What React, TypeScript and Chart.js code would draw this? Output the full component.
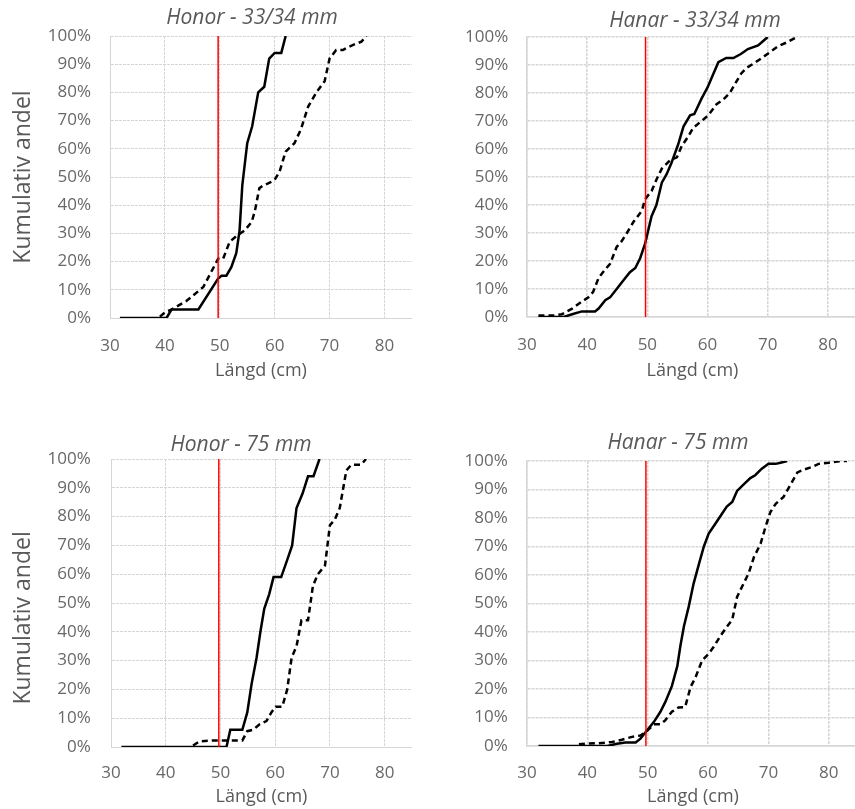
import React, { useEffect, useRef } from 'react';
import { Chart, registerables } from 'chart.js';

Chart.register(...registerables);

// ---------- axis / tick definitions ----------
const X_MIN = 30;
const X_MAX = 85;
const X_STEP = 10;
const Y_MIN = 0;
const Y_MAX = 100;
const Y_STEP = 10;
const REF_LENGTH = 49.7; // red reference line (cm)
const REF_PCT = [0, 100];

const PANEL_TITLES = ['Honor - 33/34 mm', 'Hanar - 33/34 mm', 'Honor - 75 mm', 'Hanar - 75 mm'];
const X_AXIS_TITLE = 'Längd (cm)';
const Y_AXIS_TITLE = 'Kumulativ andel';

// ---------- Honor - 33/34 mm ----------
const honor33SolidLen = [31.8, 39.1, 40.3, 41.2, 46.1, 49.7, 50.3, 51.2, 52.1, 53.0, 53.6, 54.1, 55.0, 55.9, 57.0, 58.1, 59.0, 60.0, 61.2, 62.0];
const honor33SolidPct = [0, 0, 0, 3, 3, 14, 15, 15, 18, 23, 31, 47, 62, 68, 80, 82, 92, 94, 94, 100];
const honor33DashLen = [39.1, 40.0, 41.2, 43.9, 47.0, 49.7, 50.6, 51.8, 53.0, 54.5, 55.8, 56.4, 57.2, 57.9, 59.1, 60.0, 60.9, 62.0, 63.6, 64.8, 66.1, 67.6, 69.1, 70.0, 71.2, 72.4, 73.3, 74.5, 75.8, 76.7];
const honor33DashPct = [0.5, 2, 3, 6, 11, 21, 21, 27, 29, 31, 34, 38, 46, 47, 48, 49, 52, 59, 62, 67, 75, 80, 84, 92, 95, 95, 96, 97, 98, 100];

// ---------- Hanar - 33/34 mm ----------
const hanar33SolidLen = [31.9, 36.1, 37.5, 39.1, 41.3, 41.9, 43.0, 43.8, 44.9, 46.0, 47.1, 48.0, 48.8, 49.6, 50.7, 51.5, 52.4, 53.2, 54.0, 55.1, 56.0, 57.1, 57.8, 59.0, 60.0, 60.9, 61.8, 63.1, 64.3, 65.6, 66.7, 68.4, 69.2, 70.0];
const hanar33SolidPct = [0, 0, 1, 2, 2, 3, 6, 7, 10, 13, 16, 17.5, 21, 26, 36, 40, 48, 51, 55, 61.5, 68, 72, 72.5, 78, 82, 86.5, 91, 92.5, 92.5, 94, 95.7, 97, 98.5, 100];
const hanar33DashLen = [31.9, 33.0, 34.4, 35.8, 37.5, 39.1, 40.2, 41.0, 41.9, 43.0, 43.8, 44.9, 45.7, 46.6, 47.7, 49.1, 49.6, 50.7, 51.5, 52.4, 53.8, 54.9, 55.7, 56.8, 57.6, 59.0, 60.1, 61.5, 62.6, 63.7, 64.5, 65.6, 66.5, 67.8, 69.0, 70.0, 71.7, 73.1, 74.5, 75.0];
const hanar33DashPct = [0.5, 0.5, 0.5, 1, 3, 5.5, 7, 9, 14, 17, 19, 25, 27, 30, 34, 38, 42, 45, 49, 53, 56, 57, 61, 64.5, 67.5, 70, 72, 76, 77.6, 80, 83, 87, 89, 90.7, 92.5, 94, 96.7, 98, 99.6, 100];

// ---------- Honor - 75 mm ----------
const honor75SolidLen = [31.9, 51.1, 51.8, 54.0, 54.9, 55.7, 56.6, 57.3, 58.0, 58.9, 59.7, 61.1, 62.2, 63.1, 63.9, 65.0, 66.0, 67.0, 68.1];
const honor75SolidPct = [0, 0, 6, 6, 12, 22, 31, 40, 48, 53, 59, 59, 65, 70, 83, 88, 94, 94, 100];
const honor75DashLen = [45.0, 46.2, 49.3, 51.7, 54.0, 54.9, 56.0, 57.2, 58.4, 59.3, 60.1, 61.3, 62.2, 63.0, 63.9, 64.8, 66.0, 66.9, 67.8, 69.1, 70.0, 70.9, 71.8, 73.0, 73.9, 75.7, 76.6];
const honor75DashPct = [0.5, 2, 2.3, 2.3, 2.3, 5.5, 6, 8, 9, 12, 14, 14, 20, 31, 35, 44, 44, 56, 60, 63, 77, 79, 83, 96, 98, 98, 100];

// ---------- Hanar - 75 mm ----------
const hanar75SolidLen = [31.9, 43.3, 44.9, 46.3, 48.0, 48.8, 49.9, 51.0, 52.1, 52.9, 54.0, 54.9, 55.4, 56.0, 56.8, 57.6, 58.5, 59.3, 60.1, 61.2, 62.3, 63.1, 64.0, 64.8, 65.9, 67.0, 67.8, 68.9, 70.0, 71.2, 72.0, 73.1];
const hanar75SolidPct = [0, 0, 0.8, 1.2, 1.2, 2.6, 5.5, 8.4, 12, 15.4, 21, 28, 35, 42, 49, 57, 64, 70, 74.5, 78, 81.5, 84, 85.6, 89.5, 91.8, 94, 95, 97.3, 99, 99, 99.4, 100];
const hanar75DashLen = [38.6, 39.9, 41.9, 44.1, 45.7, 47.4, 48.8, 49.9, 51.0, 52.1, 52.9, 54.0, 55.1, 56.2, 57.1, 57.9, 59.0, 60.1, 60.9, 62.0, 63.1, 64.0, 64.8, 65.6, 66.7, 67.6, 68.7, 69.5, 70.3, 71.2, 72.5, 73.6, 74.8, 75.9, 77.2, 78.3, 80.0, 81.7, 83.0];
const hanar75DashPct = [0.6, 0.8, 1, 1.4, 2.2, 3.2, 3.7, 5.3, 7.6, 7.6, 9, 12, 13.5, 13.7, 20.7, 24, 30, 32.4, 34.7, 38.5, 41.8, 44.3, 52.3, 55.8, 60.5, 66.3, 71, 76.8, 82, 85, 87.4, 91.5, 96, 97, 97.9, 99, 99.4, 99.9, 100];

// ---------- styling ----------
const FONT = "'Open Sans', 'Noto Sans', sans-serif";
const TEXT_GREY = '#595959';
const TICK_GREY = '#686868';
const GRID_GREY = '#d6d6d6';

type Layout = {
  left: number; top: number; width: number; height: number;
  yAxisWidth: number; titlePad: [number, number]; titleCenter: number;
  yTickPad: number; yTitlePad: number; xTickPad: number; xAxisHeight: number;
  gridWidth: number;
};

type PanelSpec = {
  title: string;
  yTitle: string | null;
  solidLen: number[]; solidPct: number[];
  dashLen: number[]; dashPct: number[];
  layout: Layout;
};

const zip = (xs: number[], ys: number[]) => {
  const n = Math.min(xs.length, ys.length);
  const out: { x: number; y: number }[] = [];
  for (let i = 0; i < n; i++) out.push({ x: xs[i], y: ys[i] });
  return out;
};

const PANELS: PanelSpec[] = [
  {
    title: PANEL_TITLES[0], yTitle: Y_AXIS_TITLE,
    solidLen: honor33SolidLen, solidPct: honor33SolidPct, dashLen: honor33DashLen, dashPct: honor33DashPct,
    layout: { left: 0, top: 0, width: 412, height: 382, yAxisWidth: 110, titlePad: [6.5, 5.5], titleCenter: 252,
      yTickPad: 19, yTitlePad: 10.1, xTickPad: 17.8, xAxisHeight: 64, gridWidth: 1 },
  },
  {
    title: PANEL_TITLES[1], yTitle: null,
    solidLen: hanar33SolidLen, solidPct: hanar33SolidPct, dashLen: hanar33DashLen, dashPct: hanar33DashPct,
    layout: { left: 440, top: 0, width: 418, height: 382, yAxisWidth: 87, titlePad: [8.8, 4.2], titleCenter: 255,
      yTickPad: 18.7, yTitlePad: 0, xTickPad: 17.8, xAxisHeight: 65, gridWidth: 1.5 },
  },
  {
    title: PANEL_TITLES[2], yTitle: Y_AXIS_TITLE + '     ',
    solidLen: honor75SolidLen, solidPct: honor75SolidPct, dashLen: honor75DashLen, dashPct: honor75DashPct,
    layout: { left: 0, top: 420, width: 412, height: 388, yAxisWidth: 111, titlePad: [13, 2], titleCenter: 241,
      yTickPad: 20.3, yTitlePad: 10.1, xTickPad: 16.1, xAxisHeight: 61, gridWidth: 1 },
  },
  {
    title: PANEL_TITLES[3], yTitle: null,
    solidLen: hanar75SolidLen, solidPct: hanar75SolidPct, dashLen: hanar75DashLen, dashPct: hanar75DashPct,
    layout: { left: 440, top: 420, width: 419, height: 388, yAxisWidth: 87, titlePad: [11.3, 5.7], titleCenter: 238,
      yTickPad: 19.3, yTitlePad: 0, xTickPad: 16.8, xAxisHeight: 62, gridWidth: 1.5 },
  },
];

// Moves the (Chart.js) title block so its text is centred where the reference centres it.
const titlePlacer = {
  id: 'titlePlacer',
  afterLayout(chart: any, _args: any, opts: any) {
    const tb = chart.titleBlock;
    if (!tb || typeof opts.center !== 'number') return;
    const w = tb.right - tb.left;
    tb.left = opts.center - w / 2;
    tb.right = tb.left + w;
  },
};

function Panel({ spec }: { spec: PanelSpec }) {
  const ref = useRef<HTMLCanvasElement | null>(null);
  useEffect(() => {
    const canvas = ref.current;
    if (!canvas) return;
    const L = spec.layout;
    const chart = new Chart(canvas, {
      type: 'scatter',
      plugins: [titlePlacer],
      data: {
        datasets: [
          {
            label: 'Referens',
            data: zip([REF_LENGTH, REF_LENGTH], REF_PCT),
            showLine: true, borderColor: '#ff0000', borderWidth: 1.5,
            pointRadius: 0, pointHoverRadius: 0, order: 0,
          },
          {
            label: 'Heldragen',
            data: zip(spec.solidLen, spec.solidPct),
            showLine: true, borderColor: '#000000', borderWidth: 2.5,
            pointRadius: 0, pointHoverRadius: 0, tension: 0, order: 1,
          },
          {
            label: 'Streckad',
            data: zip(spec.dashLen, spec.dashPct),
            showLine: true, borderColor: '#000000', borderWidth: 2.5, borderDash: [6, 4],
            pointRadius: 0, pointHoverRadius: 0, tension: 0, order: 2,
          },
        ],
      },
      options: {
        responsive: false,
        animation: false,
        events: [],
        layout: { padding: 0 },
        plugins: {
          legend: { display: false },
          tooltip: { enabled: false },
          titlePlacer: { center: L.titleCenter },
          title: {
            display: true,
            text: spec.title,
            color: TEXT_GREY,
            font: { family: FONT, size: 21, style: 'italic', weight: 'normal', lineHeight: 1.2 },
            padding: { top: L.titlePad[0] - 0.6, bottom: L.titlePad[1] - 0.6 },
          },
        },
        scales: {
          x: {
            type: 'linear',
            min: X_MIN, max: X_MAX,
            afterFit: (s: any) => { s.height = L.xAxisHeight; },
            ticks: {
              stepSize: X_STEP, includeBounds: false, padding: L.xTickPad,
              color: TICK_GREY, font: { family: FONT, size: 17 }, maxRotation: 0,
            },
            grid: { color: GRID_GREY, lineWidth: L.gridWidth, drawTicks: false },
            border: { display: true, color: GRID_GREY, width: L.gridWidth, dash: [3, 1] },
            title: {
              display: true, text: X_AXIS_TITLE, color: TEXT_GREY,
              font: { family: FONT, size: 18, lineHeight: 1.2 },
              padding: { top: 0, bottom: 0 },
            },
          },
          y: {
            type: 'linear',
            min: Y_MIN, max: Y_MAX,
            afterFit: (s: any) => { s.width = L.yAxisWidth; },
            ticks: {
              stepSize: Y_STEP, padding: L.yTickPad, color: TICK_GREY,
              font: { family: FONT, size: 17 },
              callback: (v: any) => v + '%',
            },
            grid: { color: GRID_GREY, lineWidth: L.gridWidth, drawTicks: false },
            border: { display: true, color: GRID_GREY, width: L.gridWidth, dash: [3, 1] },
            title: {
              display: spec.yTitle !== null,
              text: spec.yTitle || '',
              color: TEXT_GREY,
              font: { family: FONT, size: 23, lineHeight: 1.2 },
              padding: { top: L.yTitlePad - 0.6, bottom: 0 },
            },
          },
        },
      } as any,
    });
    return () => chart.destroy();
  }, [spec]);
  const L = spec.layout;
  return (
    <canvas
      ref={ref}
      width={L.width}
      height={L.height}
      style={{ position: 'absolute', left: L.left, top: L.top, width: L.width, height: L.height }}
    />
  );
}

export default function App() {
  return (
    <div style={{ position: 'absolute', left: 0, top: 0, width: 855, height: 809, overflow: 'hidden', background: '#ffffff' }}>
      {PANELS.map((p, i) => (
        <Panel key={i} spec={p} />
      ))}
    </div>
  );
}
